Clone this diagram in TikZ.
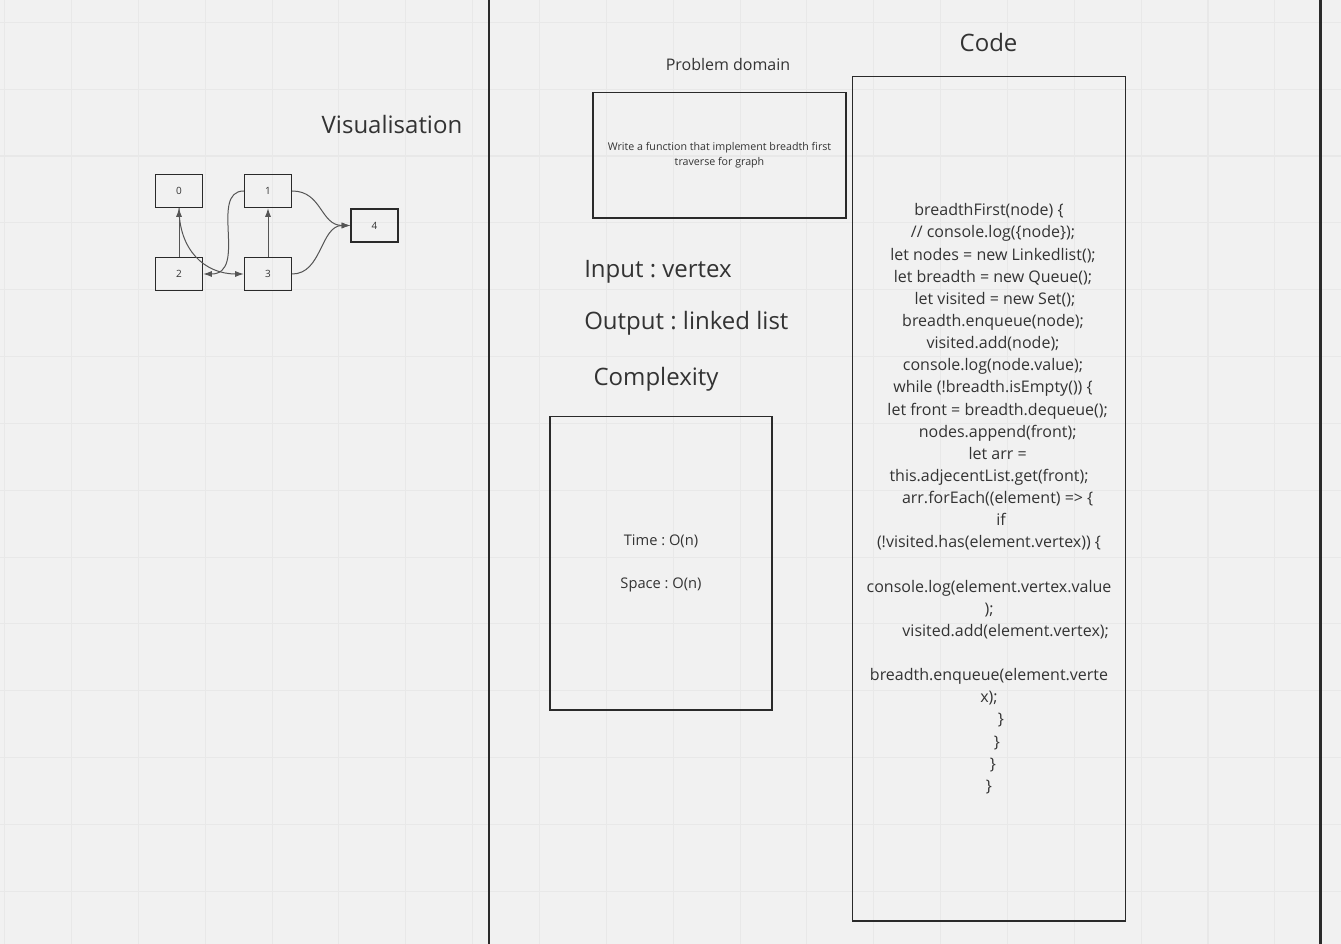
\documentclass[tikz,border=0pt]{standalone}
\usepackage{fontspec}
\setmainfont{Open Sans}
\frenchspacing
\usetikzlibrary{shapes,arrows.meta}
\definecolor{board}{HTML}{F1F1F1}
\definecolor{gridgray}{HTML}{E8E8E8}
\definecolor{ink}{HTML}{333333}
\definecolor{frame}{HTML}{2A2A2A}
\definecolor{wire}{HTML}{555555}
\tikzstyle{vertex} = [rectangle, draw=frame, line width=1pt, 
    minimum width=35.25pt, minimum height=24.75pt, inner sep=0pt,
    text=ink, font=\fontsize{7.5}{9}\selectfont]
\tikzstyle{panel} = [rectangle, draw=frame, line width=1.1pt, inner sep=0pt,
    align=center, text=ink]
\tikzstyle{title} = [text=ink, inner sep=0pt, font=\fontsize{18}{22}\selectfont]
\tikzstyle{line} = [draw=wire, line width=0.75pt, -{Latex[length=6.5pt,width=4.5pt]}]

\begin{document}
\begin{tikzpicture}[x=0.75pt, y=-0.75pt]
    % Board and grid
    \useasboundingbox (0,0) rectangle (1341,944);
    \fill [board] (0,0) rectangle (1341,944);
    \foreach \gx in {0,...,19}
        \draw [gridgray, line width=0.8pt] ({4.7+66.85*\gx},0) -- ++(0,944);
    \foreach \gy in {0,...,13}
        \draw [gridgray, line width=0.8pt] (0,{22.3+66.85*\gy}) -- ++(1341,0);
    \draw [frame, line width=1.6pt] (489.3,0) -- (489.3,944);
    \draw [frame, line width=1.6pt] (1320.5,0) -- (1320.5,944);
    % Headings
    \node [title, anchor=base] (vis) at (392,133.3) {Visualisation};
    \node [title, anchor=base] (code) at (988.5,51.5) {Code};
    \node [title, anchor=base, font=\fontsize{12}{14}\selectfont] (domain) at (728,70.7) {Problem domain};
    \node [title, anchor=base west] (input) at (584,277.3) {Input : vertex};
    \node [title, anchor=base west] (output) at (584,330) {Output : linked list};
    \node [title, anchor=base west] (cplx) at (593.3,386) {Complexity};
    % Place nodes
    \node [vertex] (v0) at (179,191) {0};
    \node [vertex] (v1) at (268,191) {1};
    \node [vertex] (v2) at (179,274) {2};
    \node [vertex] (v3) at (268,274) {3};
    \node [vertex] (v4) at (374.5,225.5) {4};
    % Draw edges
    \path [line] (v2) -- (v0);
    \path [line] (v3) -- (v1);
    \path [line] (v0.south) .. controls +(0,42) and +(-39,0) .. (v3.west);
    \path [line] (v1.west) .. controls +(-35,0) and +(45,0) .. (v2.east);
    \path [line] (v1.east) .. controls +(30,0) and +(-30,0) .. (v4.west);
    \path [line] (v3.east) .. controls +(30,0) and +(-30,0) .. (v4.west);
    % Panels
    \node [panel, minimum width=189.75pt, minimum height=94.1pt,
        font=\fontsize{8}{11.4}\selectfont] (task) at (719.5,155.25)
        {Write a function that implement breadth first\\traverse for graph};
    \node [panel, minimum width=166.5pt, minimum height=220.1pt,
        font=\fontsize{11}{32.5}\selectfont] (cost) at (661,563.25)
        {Time : O(n)\\Space : O(n)};
    \node [panel, minimum width=204.75pt, minimum height=633.4pt,
        font=\fontsize{12}{16.6}\selectfont] (prog) at (989,498.75)
        {breadthFirst(node) \{\\
        \hspace*{6pt}// console.log(\{node\});\\
        \hspace*{6pt}let nodes = new Linkedlist();\\
        \hspace*{6pt}let breadth = new Queue();\\
        \hspace*{9pt}let visited = new Set();\\
        \hspace*{6pt}breadth.enqueue(node);\\
        \hspace*{6pt}visited.add(node);\\
        \hspace*{6pt}console.log(node.value);\\
        \hspace*{6pt}while (!breadth.isEmpty()) \{\\
        \hspace*{13pt}let front = breadth.dequeue();\\
        \hspace*{13pt}nodes.append(front);\\
        \hspace*{13pt}let arr =\\
        this.adjecentList.get(front);\\
        \hspace*{13pt}arr.forEach((element) => \{\\
        \hspace*{18pt}if\\
        (!visited.has(element.vertex)) \{\\
        \mbox{}\\
        console.log(element.vertex.value\\
        );\\
        \hspace*{25pt}visited.add(element.vertex);\\
        \mbox{}\\
        breadth.enqueue(element.verte\\
        x);\\
        \hspace*{18pt}\}\\
        \hspace*{12pt}\}\\
        \hspace*{6pt}\}\\
        \}};
\end{tikzpicture}
\end{document}
